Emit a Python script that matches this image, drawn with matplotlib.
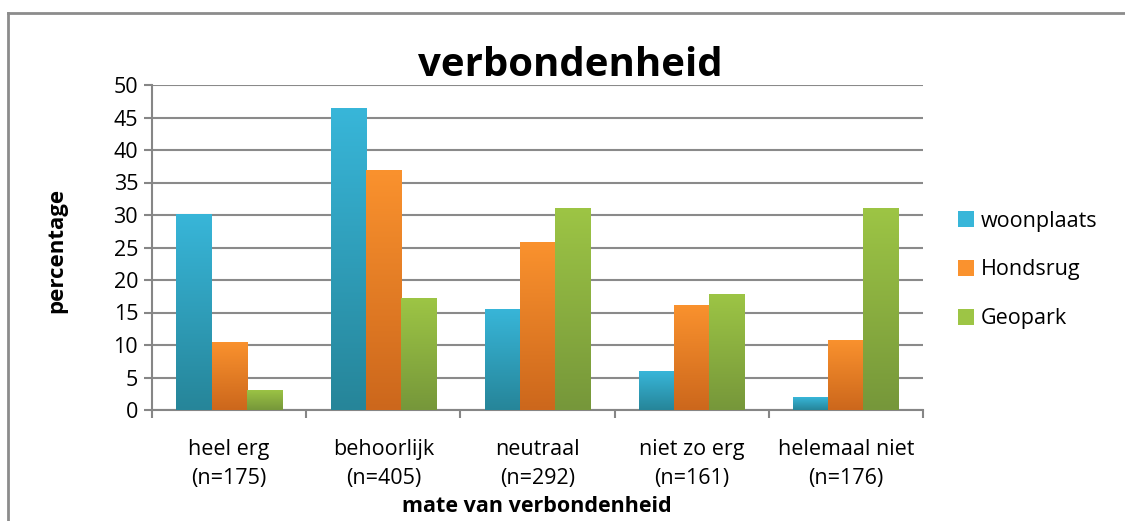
import numpy as np
import matplotlib.pyplot as plt
from matplotlib.lines import Line2D
from matplotlib.colors import LinearSegmentedColormap

plt.rcParams['font.family'] = ['Open Sans', 'DejaVu Sans']

# data
categories = ['heel erg\n(n=175)', 'behoorlijk\n(n=405)', 'neutraal\n(n=292)',
              'niet zo erg\n(n=161)', 'helemaal niet\n(n=176)']
series = ['woonplaats', 'Hondsrug', 'Geopark']
woonplaats = [30.1, 46.4, 15.6, 6.0, 2.0]
hondsrug = [10.5, 37.0, 25.8, 16.2, 10.8]
geopark = [3.1, 17.2, 31.1, 17.9, 31.1]
values = [woonplaats, hondsrug, geopark]

top_cols = ['#38b6d9', '#fa922e', '#9dc545']
bot_cols = ['#268599', '#cc671c', '#76973a']

fig = plt.figure(figsize=(11.25, 5.21), dpi=100)
ax = fig.add_axes([152/1125, 1-410/521, 771/1125, 325/521])

x = np.arange(len(categories))
w = 0.228
grad = np.linspace(1, 0, 256).reshape(-1, 1)
for i, (vals, name) in enumerate(zip(values, series)):
    bars = ax.bar(x + (i-1)*w, vals, w, color=top_cols[i], label=name,
                  edgecolor='none', zorder=3)
    cmap = LinearSegmentedColormap.from_list('g%d' % i, [bot_cols[i], top_cols[i]])
    for b in bars:
        x0, y0 = b.get_x(), b.get_y()
        im = ax.imshow(grad, cmap=cmap, aspect='auto', zorder=3.5,
                       extent=[x0, x0+b.get_width(), y0, y0+b.get_height()])
        im.set_clip_path(b)

ax.set_xlim(-0.5, len(categories)-0.5)
ax.set_ylim(0, 50)
ax.set_yticks(np.arange(0, 51, 5))
ax.set_xticks(np.arange(len(categories)+1) - 0.5, minor=False)
ax.set_xticklabels([])
ax.set_xticks(x, minor=True)
ax.set_xticklabels(categories, minor=True, fontsize=15.5, linespacing=1.5)
ax.tick_params(axis='x', which='minor', length=0, pad=21)
ax.tick_params(axis='x', which='major', length=6, color='#868686', width=1.5)
ax.tick_params(axis='y', length=6, color='#868686', width=1.5, labelsize=15.5, pad=4)
ax.grid(axis='y', color='#8a8a8a', linewidth=1.5, zorder=0)
for s in ['top', 'right']:
    ax.spines[s].set_visible(False)
for s in ['left', 'bottom']:
    ax.spines[s].set_color('#868686')
    ax.spines[s].set_linewidth(1.5)

ax.set_title('verbondenheid', fontsize=29, fontweight='bold', pad=0,
             x=(570-152)/771)
fig.text(57/1125, 1-250/521, 'percentage', rotation=90, fontsize=16,
         fontweight='bold', ha='center', va='center')
fig.text(537/1125, 1-506/521, 'mate van verbondenheid', fontsize=15.5,
         fontweight='bold', ha='center', va='center')

leg = fig.legend(loc='center left', bbox_to_anchor=(958/1125, 1-270/521), frameon=False,
                 fontsize=15.5, handlelength=0.72, handleheight=0.72, handletextpad=0.35,
                 labelspacing=1.3, borderpad=0, borderaxespad=0)
for h, c in zip(leg.legend_handles, top_cols):
    h.set_facecolor(c)

# outer chart frame
fig.add_artist(Line2D([8/1125, 1], [1-13/521, 1-13/521], color='#8c8c8c', lw=2))
fig.add_artist(Line2D([8/1125, 8/1125], [0, 1-13/521], color='#8c8c8c', lw=2))

fig.savefig('out.png', dpi=100)
